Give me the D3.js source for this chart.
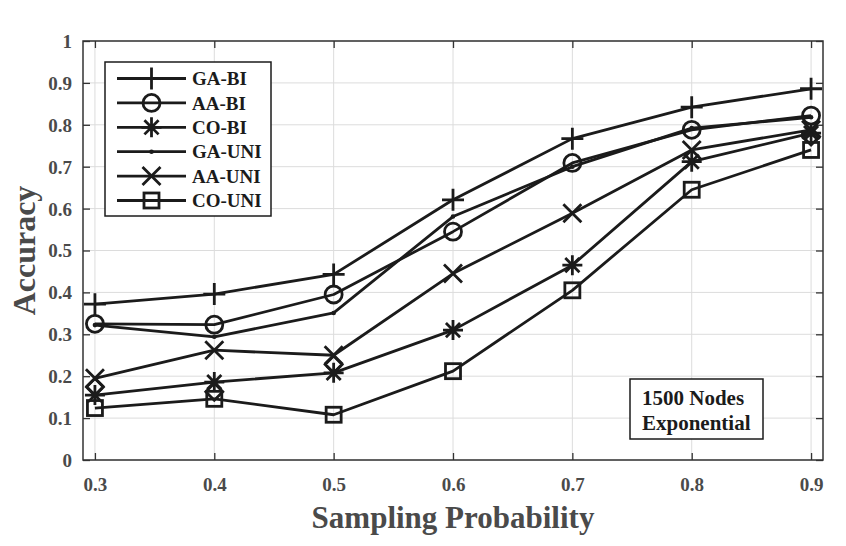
<!DOCTYPE html>
<html>
<head>
<meta charset="utf-8">
<script src="https://cdn.jsdelivr.net/npm/d3@7"></script>
<style>
  body { margin: 0; background: #fff; }
  svg { display: block; }
  text { font-family: "Liberation Serif", "Times New Roman", serif; font-weight: bold; }
</style>
</head>
<body>
<div id="chart"></div>
<script>
// sampling probabilities on the x axis
var probs = [0.3, 0.4, 0.5, 0.6, 0.7, 0.8, 0.9]

// accuracy per series
var gaBi  = [0.372, 0.396, 0.443, 0.621, 0.767, 0.842, 0.886]
var aaBi  = [0.325, 0.323, 0.395, 0.545, 0.709, 0.788, 0.822]
var coBi  = [0.155, 0.186, 0.208, 0.310, 0.465, 0.712, 0.780]
var gaUni = [0.322, 0.294, 0.351, 0.581, 0.700, 0.792, 0.818]
var aaUni = [0.195, 0.262, 0.250, 0.445, 0.589, 0.740, 0.788]
var coUni = [0.124, 0.146, 0.108, 0.212, 0.405, 0.645, 0.740]
// extra diamond markers that peek out from under the others (not in legend)
var hidden = [0.174, 0.163, 0.228, null, null, null, 0.772]

var seriesNames = ['GA-BI', 'AA-BI', 'CO-BI', 'GA-UNI', 'AA-UNI', 'CO-UNI']
var seriesValues = [gaBi, aaBi, coBi, gaUni, aaUni, coUni]
var seriesMarkers = ['plus', 'circle', 'star', 'dot', 'cross', 'square']

var yTicks = [0, 0.1, 0.2, 0.3, 0.4, 0.5, 0.6, 0.7, 0.8, 0.9, 1]
var yTickLabels = ['0', '0.1', '0.2', '0.3', '0.4', '0.5', '0.6', '0.7', '0.8', '0.9', '1']
var xTickLabels = ['0.3', '0.4', '0.5', '0.6', '0.7', '0.8', '0.9']

var width = 846, height = 546
var margin = { left: 83, right: 23, top: 41, bottom: 86 }
var ink = '#1b1b1b'
var labelColor = '#4a4a4a'

var svg = d3.select('#chart')
    .append('svg')
    .attr('width', width)
    .attr('height', height)

var x = d3.scaleLinear()
    .domain([0.29, 0.91])
    .range([margin.left, width - margin.right])

var y = d3.scaleLinear()
    .domain([0, 1])
    .range([height - margin.bottom, margin.top])

var x0 = x.range()[0], x1 = x.range()[1]
var y0 = y.range()[0], y1 = y.range()[1]

// grid
var grid = svg.append('g')
grid.selectAll('.vgrid')
    .data(probs)
    .enter()
    .append('line')
    .attr('x1', function(d) { return x(d) })
    .attr('x2', function(d) { return x(d) })
    .attr('y1', y1)
    .attr('y2', y0)
    .attr('stroke', '#dcdcdc')
    .attr('stroke-width', 1)
grid.selectAll('.hgrid')
    .data(yTicks)
    .enter()
    .append('line')
    .attr('x1', x0)
    .attr('x2', x1)
    .attr('y1', function(d) { return y(d) })
    .attr('y2', function(d) { return y(d) })
    .attr('stroke', '#dcdcdc')
    .attr('stroke-width', 1)

// axes, ticks pointing inward on all four sides
var bottomAxis = d3.axisBottom(x).tickValues(probs).tickSizeInner(-7).tickSizeOuter(0)
    .tickFormat(function(d, i) { return xTickLabels[i] })
var topAxis = d3.axisTop(x).tickValues(probs).tickSizeInner(-7).tickSizeOuter(0).tickFormat('')
var leftAxis = d3.axisLeft(y).tickValues(yTicks).tickSizeInner(-7).tickSizeOuter(0)
    .tickFormat(function(d, i) { return yTickLabels[i] })
var rightAxis = d3.axisRight(y).tickValues(yTicks).tickSizeInner(-7).tickSizeOuter(0).tickFormat('')

function styleAxis(g) {
    g.select('.domain').remove()
    g.selectAll('line').attr('stroke', '#333').attr('stroke-width', 1.3)
    g.selectAll('text')
        .attr('fill', labelColor)
        .style('font-size', '19px')
        .style('font-family', '"Liberation Serif", "Times New Roman", serif')
        .style('font-weight', 'bold')
}

svg.append('g').attr('transform', 'translate(0,' + y0 + ')').call(bottomAxis).call(styleAxis)
    .selectAll('text').attr('dy', null).attr('y', 31)
svg.append('g').attr('transform', 'translate(0,' + y1 + ')').call(topAxis).call(styleAxis)
svg.append('g').attr('transform', 'translate(' + x0 + ',0)').call(leftAxis).call(styleAxis)
    .selectAll('text').attr('x', -11).attr('dy', '0.34em')
svg.append('g').attr('transform', 'translate(' + x1 + ',0)').call(rightAxis).call(styleAxis)

svg.append('rect')
    .attr('x', x0)
    .attr('y', y1)
    .attr('width', x1 - x0)
    .attr('height', y0 - y1)
    .attr('fill', 'none')
    .attr('stroke', '#333')
    .attr('stroke-width', 1.5)

// marker drawing
function drawMarker(g, type, cx, cy) {
    var sw = 2.8
    if (type == 'plus') {
        g.append('path').attr('d', 'M' + (cx - 11) + ',' + cy + 'H' + (cx + 11) + 'M' + cx + ',' + (cy - 11) + 'V' + (cy + 11))
            .attr('stroke', ink).attr('stroke-width', sw).attr('fill', 'none')
    } else if (type == 'circle') {
        g.append('circle').attr('cx', cx).attr('cy', cy).attr('r', 8.5)
            .attr('stroke', ink).attr('stroke-width', sw).attr('fill', 'none')
    } else if (type == 'star') {
        var r = 10, d = ''
        for (var k = 0; k < 4; k++) {
            var a = k * Math.PI / 4
            d += 'M' + (cx - r * Math.cos(a)) + ',' + (cy - r * Math.sin(a)) + 'L' + (cx + r * Math.cos(a)) + ',' + (cy + r * Math.sin(a))
        }
        g.append('path').attr('d', d).attr('stroke', ink).attr('stroke-width', sw).attr('fill', 'none')
    } else if (type == 'dot') {
        g.append('circle').attr('cx', cx).attr('cy', cy).attr('r', 2.3).attr('fill', ink)
    } else if (type == 'cross') {
        var c = 9
        g.append('path').attr('d', 'M' + (cx - c) + ',' + (cy - c) + 'L' + (cx + c) + ',' + (cy + c) + 'M' + (cx - c) + ',' + (cy + c) + 'L' + (cx + c) + ',' + (cy - c))
            .attr('stroke', ink).attr('stroke-width', sw).attr('fill', 'none')
    } else if (type == 'square') {
        g.append('rect').attr('x', cx - 7.5).attr('y', cy - 7.5).attr('width', 15).attr('height', 15)
            .attr('stroke', ink).attr('stroke-width', sw).attr('fill', 'none')
    } else if (type == 'diamond') {
        var s = 8.5
        g.append('path').attr('d', 'M' + cx + ',' + (cy - s) + 'L' + (cx + s) + ',' + cy + 'L' + cx + ',' + (cy + s) + 'L' + (cx - s) + ',' + cy + 'Z')
            .attr('stroke', ink).attr('stroke-width', sw).attr('fill', 'none')
    }
}

var plot = svg.append('g')

// hidden diamonds go first so other marks sit on top
probs.forEach(function(p, i) {
    if (hidden[i] != null) drawMarker(plot, 'diamond', x(p), y(hidden[i]))
})

var line = d3.line()
    .x(function(d, i) { return x(probs[i]) })
    .y(function(d) { return y(d) })

seriesValues.forEach(function(vals, s) {
    plot.append('path')
        .datum(vals)
        .attr('d', line)
        .attr('fill', 'none')
        .attr('stroke', ink)
        .attr('stroke-width', 2.8)
        .attr('stroke-linejoin', 'round')
    vals.forEach(function(v, i) {
        drawMarker(plot, seriesMarkers[s], x(probs[i]), y(v))
    })
})

// legend
var legend = svg.append('g')
legend.append('rect')
    .attr('x', 105).attr('y', 62).attr('width', 166).attr('height', 154)
    .attr('fill', '#fff').attr('stroke', ink).attr('stroke-width', 1.5)
seriesNames.forEach(function(name, i) {
    var ly = 78.5 + i * 24.4
    legend.append('line')
        .attr('x1', 117).attr('x2', 186).attr('y1', ly).attr('y2', ly)
        .attr('stroke', ink).attr('stroke-width', 2.8)
    drawMarker(legend, seriesMarkers[i], 151.5, ly)
    legend.append('text')
        .attr('x', 192).attr('y', ly).attr('dy', '0.35em')
        .attr('fill', ink)
        .style('font-size', '19px')
        .text(name)
})

// annotation box
var note = svg.append('g')
note.append('rect')
    .attr('x', 630).attr('y', 379).attr('width', 133).attr('height', 60)
    .attr('fill', '#fff').attr('stroke', ink).attr('stroke-width', 1.5)
note.append('text').attr('x', 642).attr('y', 405).attr('fill', ink).style('font-size', '21px').text('1500 Nodes')
note.append('text').attr('x', 642).attr('y', 430).attr('fill', ink).style('font-size', '21px').text('Exponential')

// axis titles
svg.append('text')
    .attr('x', (x0 + x1) / 2).attr('y', 528)
    .attr('text-anchor', 'middle')
    .attr('fill', labelColor)
    .style('font-size', '31px')
    .text('Sampling Probability')
svg.append('text')
    .attr('transform', 'translate(35,' + ((y0 + y1) / 2) + ') rotate(-90)')
    .attr('text-anchor', 'middle')
    .attr('fill', labelColor)
    .style('font-size', '32px')
    .text('Accuracy')
</script>
</body>
</html>
